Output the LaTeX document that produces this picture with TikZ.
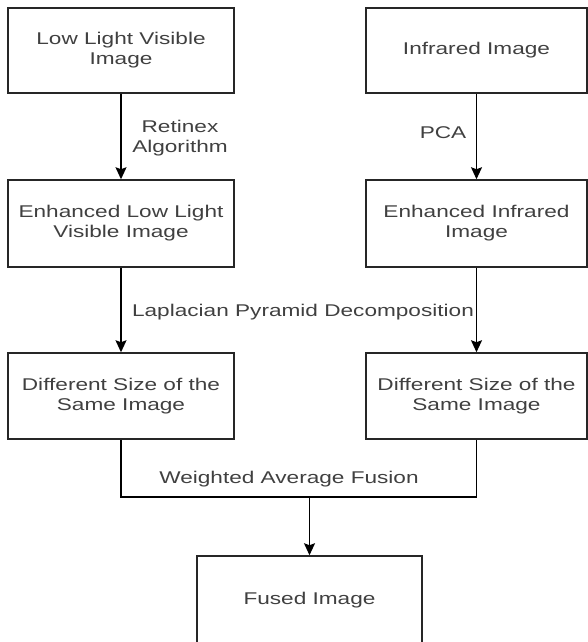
\documentclass[tikz,border=0pt]{standalone}
\usepackage{fontspec}
\setmainfont{Liberation Sans}[FakeStretch=1.33]
\usetikzlibrary{arrows.meta}
\begin{document}
\begin{tikzpicture}[x=1pt,y=-1pt,
  box/.style={draw=black!85,line width=1.5pt,rectangle,inner sep=0pt,align=center,
    text=black!75,font=\fontsize{17}{20}\selectfont,minimum width=#1},
  box/.default=226pt,
  lbl/.style={text=black!75,font=\fontsize{17}{20}\selectfont,align=center,inner sep=0pt},
  conn/.style={line width=1.5pt,draw=black},
  arr/.style={conn,-{Stealth[length=12pt,width=11pt,inset=2pt]}}]
\useasboundingbox (0,0) rectangle (588,642);
\node[box, minimum height=85pt] (b1) at (121,50.5) {Low Light Visible\\Image};
\node[box=221pt, minimum height=85pt] (b2) at (476.5,50.5) {Infrared Image};
\node[box, minimum height=87pt] (b3) at (121,223.5) {Enhanced Low Light\\Visible Image};
\node[box=221pt, minimum height=87pt] (b4) at (476.5,223.5) {Enhanced Infrared\\Image};
\node[box, minimum height=86pt] (b5) at (121,396) {Different Size of the\\Same Image};
\node[box=221pt, minimum height=86pt] (b6) at (476.5,396) {Different Size of the\\Same Image};
\node[box=225pt, minimum height=89pt] (b7) at (309.5,600.5) {Fused Image};
\draw[arr] (b1.south) -- (b3.north);
\draw[arr] (b2.south) -- (b4.north);
\draw[arr] (b3.south) -- (b5.north);
\draw[arr] (b4.south) -- (b6.north);
\coordinate (jl) at (121,497);
\coordinate (jr) at (476.5,497);
\coordinate (jm) at (309.5,497);
\draw[conn] (b5.south) -- (jl) -- (jr) -- (b6.south);
\draw[arr] (jm) -- (b7.north);
\node[lbl] (l1) at (180,138) {Retinex\\Algorithm};
\node[lbl] (l2) at (443,133) {PCA};
\node[lbl] (l3) at (303,312) {Laplacian Pyramid Decomposition};
\node[lbl] (l4) at (289,479) {Weighted Average Fusion};
\end{tikzpicture}
\end{document}
